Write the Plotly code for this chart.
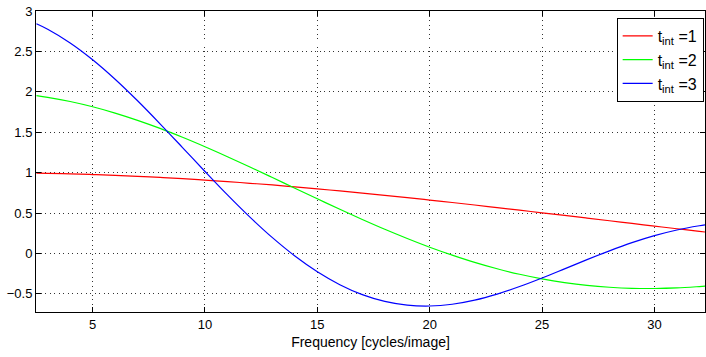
import plotly.graph_objects as go

# Spatial frequency samples [cycles/image]
freq = [2.5, 3, 4, 5, 6, 7, 8, 9, 10, 11, 12, 13, 14, 15, 16, 17, 18, 19, 20,
        21, 22, 23, 24, 25, 26, 27, 28, 29, 30, 31, 32, 32.25]

# Response for integration time t_int = 1
resp_t1 = [0.994, 0.991, 0.985, 0.976, 0.966, 0.954, 0.940, 0.925, 0.907, 0.889,
           0.868, 0.847, 0.823, 0.799, 0.773, 0.747, 0.719, 0.690, 0.660, 0.630,
           0.599, 0.567, 0.535, 0.502, 0.470, 0.437, 0.404, 0.371, 0.338, 0.305,
           0.273, 0.265]

# Response for integration time t_int = 2
resp_t2 = [1.953, 1.932, 1.880, 1.815, 1.737, 1.647, 1.547, 1.437, 1.320, 1.197,
           1.070, 0.939, 0.807, 0.676, 0.546, 0.420, 0.299, 0.185, 0.077, -0.021,
           -0.111, -0.190, -0.258, -0.315, -0.361, -0.396, -0.419, -0.432, -0.434,
           -0.427, -0.410, -0.405]

# Response for integration time t_int = 3
resp_t3 = [2.842, 2.774, 2.605, 2.397, 2.156, 1.889, 1.604, 1.310, 1.014, 0.724,
           0.449, 0.195, -0.032, -0.227, -0.387, -0.510, -0.594, -0.640, -0.651,
           -0.629, -0.578, -0.503, -0.410, -0.304, -0.191, -0.077, 0.032, 0.133,
           0.220, 0.290, 0.342, 0.352]

series = [
    ("t<sub>int</sub> =1", resp_t1, "#ff0000"),
    ("t<sub>int</sub> =2", resp_t2, "#00ff00"),
    ("t<sub>int</sub> =3", resp_t3, "#0000ff"),
]

x_ticks = [5, 10, 15, 20, 25, 30]
y_ticks = [-0.5, 0, 0.5, 1, 1.5, 2, 2.5, 3]

fig = go.Figure()
for name, vals, color in series:
    fig.add_trace(go.Scatter(
        x=freq, y=vals, mode="lines", name=name,
        line=dict(color=color, width=1.2, shape="spline"),
    ))

axis_common = dict(
    showline=True, linecolor="black", linewidth=1, mirror="ticks",
    ticks="inside", ticklen=5, tickcolor="black",
    showgrid=True, gridcolor="#333", griddash="1px,3.5px", gridwidth=1,
    zeroline=False,
    tickfont=dict(family="Liberation Sans, Arial, sans-serif", size=13, color="black"),
)

fig.update_layout(
    width=706, height=357,
    margin=dict(l=36, r=1, t=11, b=45),
    plot_bgcolor="white", paper_bgcolor="white",
    font=dict(family="Liberation Sans, Arial, sans-serif", size=13, color="black"),
    xaxis=dict(range=[2.48, 32.25], tickvals=x_ticks,
               title=dict(text="Frequency [cycles/image]", standoff=6,
                          font=dict(size=14)),
               **axis_common),
    yaxis=dict(range=[-0.725, 3.0], tickvals=y_ticks,
               ticktext=["−0.5", "0", "0.5", "1", "1.5", "2", "2.5", "3"],
               **axis_common),
    legend=dict(x=0.998, y=0.977, xanchor="right", yanchor="top",
                bgcolor="white", bordercolor="black", borderwidth=1,
                font=dict(size=16), tracegroupgap=0),
    showlegend=True,
)

fig.write_html("out.html")
